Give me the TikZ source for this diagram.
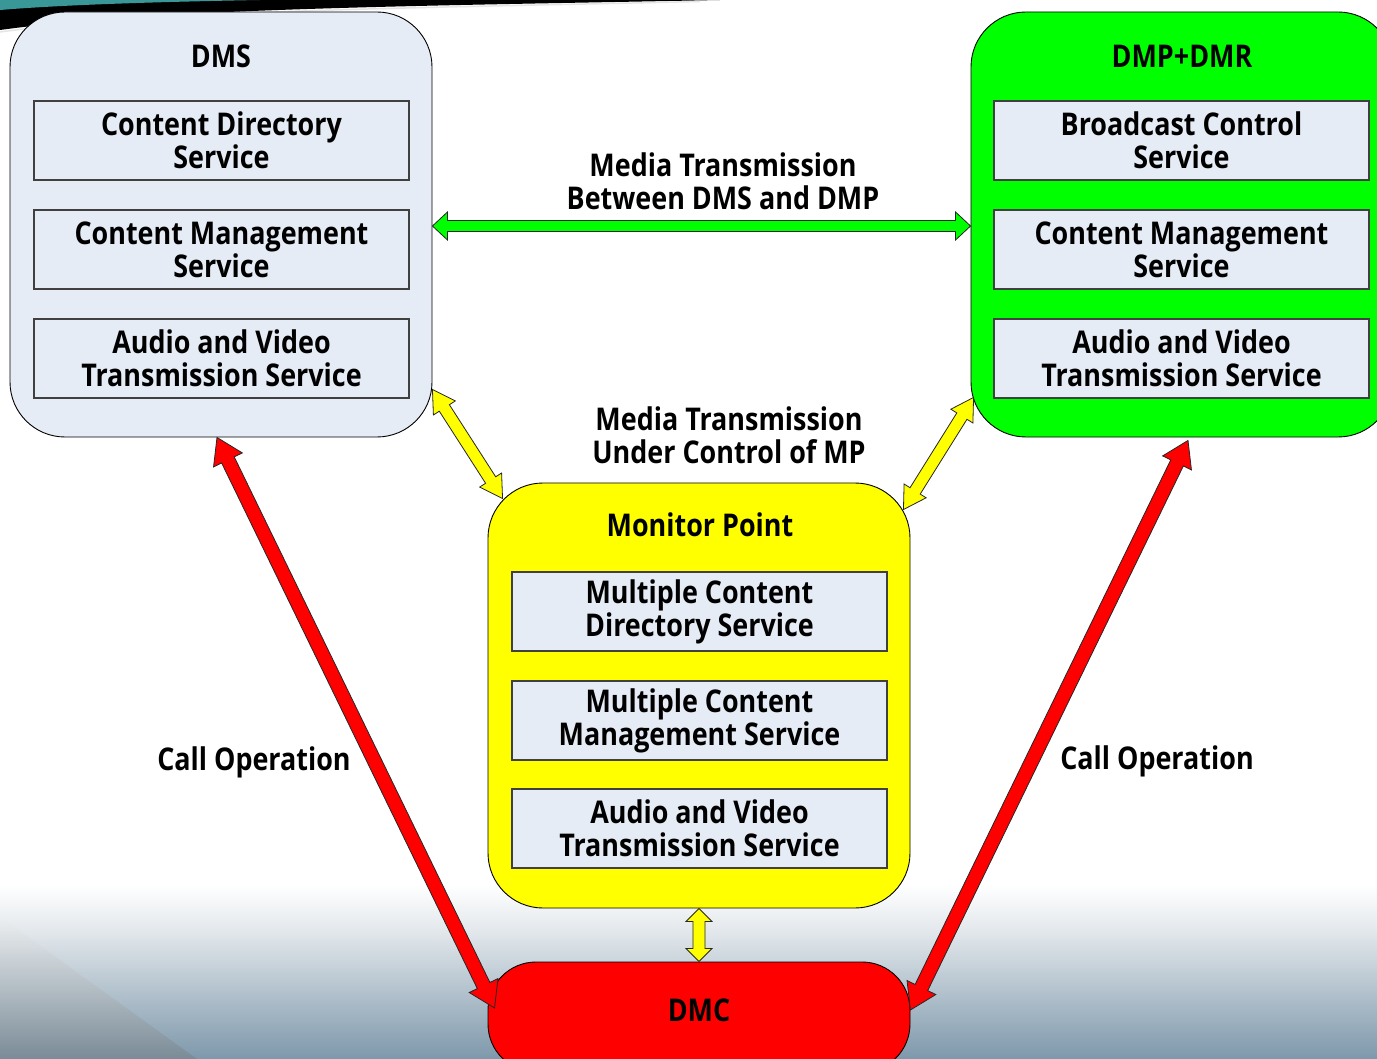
\documentclass[tikz,border=0pt]{standalone}
\usepackage{fontspec}
\setmainfont[FakeStretch=0.86]{Open Sans}
\usetikzlibrary{calc}

\definecolor{svcfill}{HTML}{E6ECF6}
\definecolor{svcline}{HTML}{404040}
\definecolor{mpgreen}{HTML}{00FF00}
\definecolor{mpyellow}{HTML}{FFFF00}
\definecolor{mpred}{HTML}{FF0000}
\definecolor{bgmid}{HTML}{E3E8EC}
\definecolor{bgbot}{HTML}{7E98AB}
\definecolor{bgtopgray}{HTML}{ECEFF1}
\definecolor{bgmidgray}{HTML}{B2BBC1}
\definecolor{bggray}{HTML}{7A8B97}
\definecolor{bandteal}{HTML}{3A9797}

% double-headed block arrow: #1 start, #2 end, #3 fill,
% #4 shaft half width, #5 head half width, #6 head length
\newcommand\blockarrow[6]{%
  \coordinate (ba1) at ($(#1)!#6!(#2)$);
  \coordinate (ba2) at ($(#2)!#6!(#1)$);
  \draw[arrowline, fill=#3]
    (#1) -- ($(ba1)!#5!90:(#2)$) -- ($(ba1)!#4!90:(#2)$)
    -- ($(ba2)!#4!-90:(#1)$) -- ($(ba2)!#5!-90:(#1)$)
    -- (#2) -- ($(ba2)!#5!90:(#1)$) -- ($(ba2)!#4!90:(#1)$)
    -- ($(ba1)!#4!-90:(#2)$) -- ($(ba1)!#5!-90:(#2)$) -- cycle;
}

\begin{document}
\begin{tikzpicture}[x=1pt,y=-1pt,
  txt/.style={font=\fontsize{31.3}{33}\selectfont\bfseries, align=center, inner sep=0pt},
  outer/.style={draw=black, line width=0.9pt, rounded corners=55pt,
    minimum width=422pt, minimum height=425pt, inner sep=0pt},
  svc/.style={txt, draw=svcline, fill=svcfill, line width=1.1pt,
    minimum width=375pt, minimum height=79pt},
  arrowline/.style={draw=black!85, line width=0.8pt, line join=miter}]

\useasboundingbox (0,0) rectangle (1377,1059);
\begin{scope}
\clip (0,0) rectangle (1377,1059);

% backdrop
\fill[white] (0,0) rectangle (1377,1059);
\shade[top color=white, bottom color=bgmid] (0,884) rectangle (1377,931);
\shade[top color=bgmid, bottom color=bgbot] (0,930) rectangle (1377,1059);
\shade[top color=bgtopgray, middle color=bgmidgray, bottom color=bggray]
  (0,917) -- (197,1059) -- (0,1059) -- cycle;
\fill[black] (0,0) -- (720,0) .. controls (420,6) and (160,8) .. (0,30) -- cycle;
\fill[bandteal] (0,0) -- (260,0) .. controls (150,2) and (60,5) .. (0,10) -- cycle;
\draw[white!80!gray, line width=1.5pt] (700,1.5) .. controls (420,8) and (160,10) .. (0,32);

% main blocks
\node[outer, fill=svcfill] (dms) at (221,224.5) {};
\node[outer, fill=mpgreen] (dmp) at (1182,224.5) {};
\node[outer, fill=mpyellow] (mp) at (699,695.5) {};
\node[draw=black, line width=0.9pt, fill=mpred, rounded corners=48pt,
  minimum width=422pt, minimum height=110pt, inner sep=0pt] (dmc) at (699,1017) {};

% titles
\node[txt] (dmsT) at (221,56) {DMS};
\node[txt] (dmpT) at (1182,56) {DMP+DMR};
\node[txt] (mpT) at (700,525) {Monitor Point};
\node[txt] (dmcT) at (699,1010) {DMC};

% services inside DMS
\node[svc] (dms1) at (221.5,140.5) {Content Directory\\Service};
\node[svc] (dms2) at (221.5,249.5) {Content Management\\Service};
\node[svc] (dms3) at (221.5,358.5) {Audio and Video\\Transmission Service};

% services inside DMP+DMR
\node[svc] (dmp1) at (1181.5,140.5) {Broadcast Control\\Service};
\node[svc] (dmp2) at (1181.5,249.5) {Content Management\\Service};
\node[svc] (dmp3) at (1181.5,358.5) {Audio and Video\\Transmission Service};

% services inside the monitor point
\node[svc] (mp1) at (699.5,611.5) {Multiple Content\\Directory Service};
\node[svc] (mp2) at (699.5,720.5) {Multiple Content\\Management Service};
\node[svc] (mp3) at (699.5,828.5) {Audio and Video\\Transmission Service};

% connector ends
\coordinate (gA) at ($(dms.east)+(0,1.5)$);
\coordinate (gB) at ($(dmp.west)+(0,1.5)$);
\coordinate (yA) at ($(dms.south east)+(0,-48)$);
\coordinate (yB) at ($(mp.north west)+(15,16)$);
\coordinate (yC) at ($(dmp.south west)+(3,-40)$);
\coordinate (yD) at ($(mp.north east)+(-7,27)$);
\coordinate (rA) at ($(dms.south)+(-4,0)$);
\coordinate (rB) at ($(dmc.west)+(7,-9)$);
\coordinate (rC) at ($(dmp.south)+(6,3)$);
\coordinate (rD) at ($(dmc.east)+(0,-7)$);

% connectors
\blockarrow{gA}{gB}{mpgreen}{5.5pt}{14pt}{15pt}
\blockarrow{yA}{yB}{mpyellow}{6pt}{13pt}{22pt}
\blockarrow{yC}{yD}{mpyellow}{6pt}{13pt}{22pt}
\blockarrow{mp.south}{dmc.north}{mpyellow}{6pt}{13pt}{13pt}
\blockarrow{rA}{rB}{mpred}{7pt}{16pt}{25pt}
\blockarrow{rC}{rD}{mpred}{7pt}{16pt}{25pt}

% connector labels
\node[txt] (lblG) at (723,181) {Media Transmission\\Between DMS and DMP};
\node[txt] (lblY) at (729,435) {Media Transmission\\Under Control of MP};
\node[txt] (lblL) at (254,762) {Call Operation};
\node[txt] (lblR) at (1157,761) {Call Operation};
\end{scope}
\end{tikzpicture}
\end{document}
